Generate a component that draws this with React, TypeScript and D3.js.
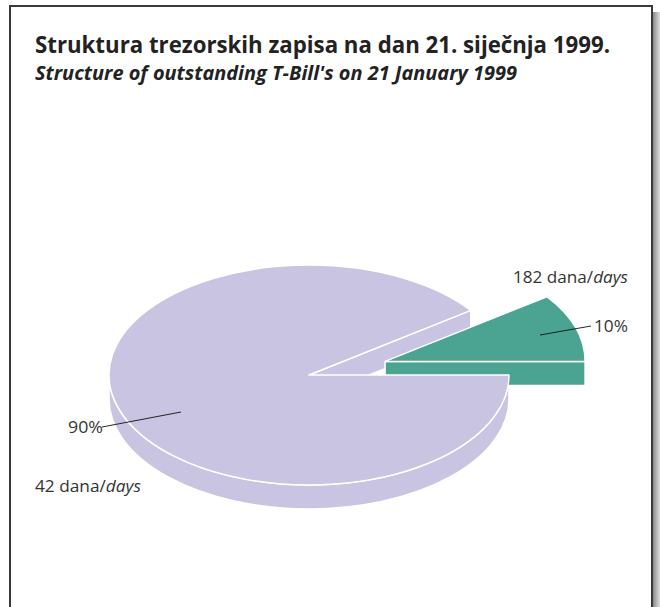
import React from "react";
import * as d3 from "d3";

const categories = ["42 dana", "182 dana"];
const values = [90, 10];
const percentLabels = ["90%", "10%"];
const colors = ["#c8c4e1", "#4ba391"];
const explode = [0, 80];

const W = 660;
const H = 607;
const cx = 309;
const cy = 375;
const rx = 200;
const ry = 110;
const depth = 24;

type Slice = { a0: number; a1: number; ox: number; oy: number; color: string; i: number };

function pt(a: number, ox: number, oy: number, dz = 0): [number, number] {
  return [cx + ox + rx * Math.sin(a), cy + oy - ry * Math.cos(a) + dz];
}

export default function App() {
  const pie = d3
    .pie<number>()
    .sort(null)
    .value((d) => d)
    .startAngle(Math.PI / 2)
    .endAngle(Math.PI / 2 + 2 * Math.PI);
  const arcs = pie(values);
  const slices: Slice[] = arcs.map((a, i) => {
    const mid = (a.startAngle + a.endAngle) / 2;
    const e = explode[i];
    return {
      a0: a.startAngle,
      a1: a.endAngle,
      ox: e * Math.sin(mid),
      oy: -e * Math.cos(mid) * (ry / rx),
      color: colors[i],
      i,
    };
  });

  const topPath = (s: Slice) => {
    const c: [number, number] = [cx + s.ox, cy + s.oy];
    const p0 = pt(s.a0, s.ox, s.oy);
    const p1 = pt(s.a1, s.ox, s.oy);
    const large = s.a1 - s.a0 > Math.PI ? 1 : 0;
    return `M${c[0]},${c[1]}L${p0[0]},${p0[1]}A${rx},${ry} 0 ${large} 1 ${p1[0]},${p1[1]}Z`;
  };

  const outerWall = (s: Slice) => {
    const segs: string[] = [];
    for (let k = -1; k <= 2; k++) {
      const lo = Math.PI / 2 + k * 2 * Math.PI;
      const hi = (3 * Math.PI) / 2 + k * 2 * Math.PI;
      const b0 = Math.max(s.a0, lo);
      const b1 = Math.min(s.a1, hi);
      if (b1 - b0 > 1e-6) {
        const t0 = pt(b0, s.ox, s.oy);
        const t1 = pt(b1, s.ox, s.oy);
        const u1 = pt(b1, s.ox, s.oy, depth);
        const u0 = pt(b0, s.ox, s.oy, depth);
        const large = b1 - b0 > Math.PI ? 1 : 0;
        segs.push(
          `M${t0[0]},${t0[1]}A${rx},${ry} 0 ${large} 1 ${t1[0]},${t1[1]}L${u1[0]},${u1[1]}A${rx},${ry} 0 ${large} 0 ${u0[0]},${u0[1]}Z`
        );
      }
    }
    return segs.join("");
  };

  const radialWall = (s: Slice, a: number) => {
    const c = [cx + s.ox, cy + s.oy];
    const p = pt(a, s.ox, s.oy);
    return `M${c[0]},${c[1]}L${p[0]},${p[1]}L${p[0]},${p[1] + depth}L${c[0]},${c[1] + depth}Z`;
  };

  const purple = slices[0];
  const green = slices[1];

  const strokeProps = { stroke: "#ffffff", strokeWidth: 1.5, strokeLinejoin: "round" as const };

  const font = "'Open Sans', 'DejaVu Sans', sans-serif";
  const txt = "#333333";

  return (
    <svg
      width={W}
      height={H}
      style={{ position: "absolute", left: 0, top: 0, background: "#ffffff" }}
    >
      <defs>
        <linearGradient id="shadow" x1="0" x2="1" y1="0" y2="0">
          <stop offset="0" stopColor="#8a8a8a" />
          <stop offset="1" stopColor="#e0e0e0" />
        </linearGradient>
      </defs>
      <rect x={0} y={0} width={W} height={H} fill="#ffffff" />
      <rect x={653} y={12} width={7} height={H} fill="url(#shadow)" />
      <rect x={10} y={6} width={642} height={H + 10} fill="#ffffff" stroke="#3a3a3a" strokeWidth={2} />

      <text x={35} y={53} fontFamily={font} fontWeight={700} fontSize={23} fill="#222" textLength={575} lengthAdjust="spacingAndGlyphs">
        Struktura trezorskih zapisa na dan 21. siječnja 1999.
      </text>
      <text x={35} y={80} fontFamily={font} fontWeight={700} fontStyle="italic" fontSize={19} fill="#222" textLength={482} lengthAdjust="spacingAndGlyphs">
        Structure of outstanding T-Bill's on 21 January 1999
      </text>

      <path d={outerWall(purple)} fill={purple.color} {...strokeProps} />
      <path d={radialWall(purple, purple.a1)} fill={purple.color} {...strokeProps} />
      <path d={radialWall(green, green.a1)} fill={green.color} {...strokeProps} />
      <path d={outerWall(green)} fill={green.color} {...strokeProps} />
      <path d={topPath(green)} fill={green.color} {...strokeProps} />
      <path d={topPath(purple)} fill={purple.color} {...strokeProps} />

      <line x1={540} y1={335} x2={591} y2={326} stroke="#111" strokeWidth={0.9} />
      <text x={594} y={332} fontFamily={font} fontSize={16.5} fill={txt} textLength={34} lengthAdjust="spacingAndGlyphs">
        {percentLabels[1]}
      </text>
      <text x={513} y={283} fontFamily={font} fontSize={16.5} fill={txt} textLength={115} lengthAdjust="spacingAndGlyphs">
        {categories[1]}/<tspan fontStyle="italic">days</tspan>
      </text>

      <line x1={181} y1={412} x2={102} y2={427} stroke="#111" strokeWidth={0.9} />
      <text x={68} y={433} fontFamily={font} fontSize={16.5} fill={txt} textLength={35} lengthAdjust="spacingAndGlyphs">
        {percentLabels[0]}
      </text>
      <text x={35} y={492} fontFamily={font} fontSize={16.5} fill={txt} textLength={106} lengthAdjust="spacingAndGlyphs">
        {categories[0]}/<tspan fontStyle="italic">days</tspan>
      </text>
    </svg>
  );
}
